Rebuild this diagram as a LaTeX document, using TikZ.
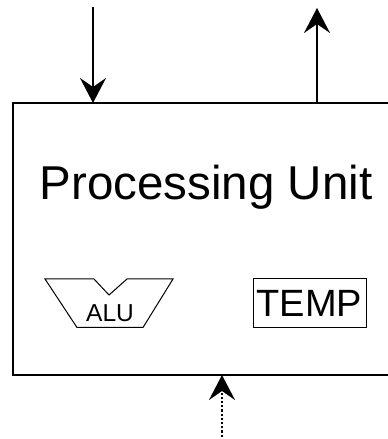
\documentclass[tikz,border=0pt]{standalone}
\usepackage{fontspec}
\setmainfont{Liberation Sans}
\usetikzlibrary{arrows.meta}
\begin{document}
\begin{tikzpicture}[x=1pt,y=1pt,
  thick line/.style={line width=2.2pt},
  arr/.style={thick line,-{Stealth[length=25pt,width=26pt,inset=9pt]}},
  thin box/.style={draw,line width=1pt}]
\useasboundingbox (0,0) rectangle (388,439);
\clip (0,0) rectangle (388,439);
% main box
\draw[thick line] (13,336) rectangle (420,64);
\coordinate (inTop) at (93,432);
\coordinate (inEnd) at (93,336);
\coordinate (outStart) at (317,336);
\coordinate (outEnd) at (317,431);
\coordinate (dotStart) at (222,-2);
\coordinate (dotEnd) at (222,64);
\draw[arr] (inTop) -- (inEnd);
\draw[arr] (outStart) -- (outEnd);
\draw[thick line,dotted,-{Stealth[length=25pt,width=26pt,inset=9pt]}] (dotStart) -- (dotEnd);
\node[anchor=base,inner sep=0pt,font=\fontsize{47.5}{50}\selectfont] (title) at (206,239) {Processing Unit};
% ALU shape
\draw[line width=1pt,line join=miter] (45,160) -- (94,160) -- (109,144) -- (127,160) -- (173,160) -- (143,111.5) -- (77,111.5) -- cycle;
\node[anchor=base,inner sep=0pt,font=\fontsize{24.5}{26}\selectfont] (alu) at (110,117) {ALU};
% TEMP box
\draw[line width=1pt] (253,160) rectangle (366,111.5);
\node[anchor=base,inner sep=0pt,font=\fontsize{38}{40}\selectfont] (temp) at (309.5,122.3) {TEMP};
\end{tikzpicture}
\end{document}
